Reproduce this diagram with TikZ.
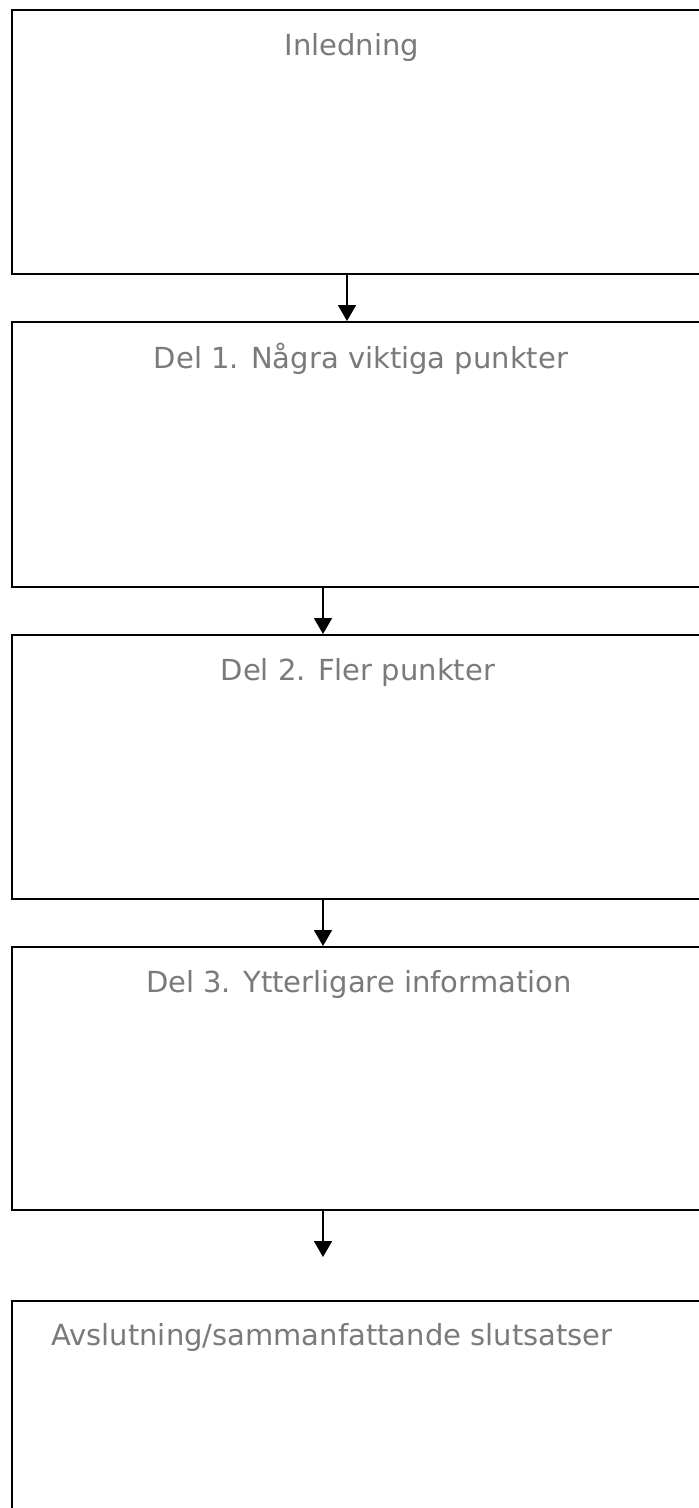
\documentclass[tikz,border=0pt]{standalone}
\usepackage{fontspec}
\setmainfont{DejaVu Sans}
\usetikzlibrary{arrows.meta}
\definecolor{txtgray}{HTML}{7A7A7A}
\tikzset{
  box/.style={draw=black, line width=1.8pt, rectangle, anchor=north west, inner sep=0pt, minimum width=720pt},
  boxtext/.style={anchor=center, text=txtgray, font=\fontsize{29}{34}\selectfont, inner sep=0pt},
  conn/.style={draw=black, line width=1.7pt, -{Triangle[width=18pt,length=16pt]}}
}
\begin{document}
\begin{tikzpicture}[x=1pt,y=1pt]
\useasboundingbox (0,0) rectangle (699,-1508);
\clip (0,0) rectangle (699,-1508);
\fill[white] (0,0) rectangle (699,-1508);
\node[box, minimum height=264pt, label={[boxtext, xshift=-20pt, yshift=-38pt]north:Inledning}] (b1) at (11,-9) {};
\node[box, minimum height=265pt, label={[boxtext, xshift=-11pt, yshift=-38pt]north:Del 1. Några viktiga punkter}] (b2) at (11,-321) {};
\node[box, minimum height=264pt, label={[boxtext, xshift=-14pt, yshift=-38pt]north:Del 2. Fler punkter}] (b3) at (11,-634) {};
\node[box, minimum height=263pt, label={[boxtext, xshift=-13pt, yshift=-38pt]north:Del 3. Ytterligare information}] (b4) at (11,-946) {};
\node[box, minimum height=260pt, label={[boxtext, xshift=-40pt, yshift=-37pt]north:Avslutning/sammanfattande slutsatser}] (b5) at (11,-1300) {};
\coordinate (e4) at (323,-1257);
\draw[conn] (b1.south west) ++(336,0) coordinate (s1) -- (s1 |- b2.north);
\draw[conn] (b2.south west) ++(312,0) coordinate (s2) -- (s2 |- b3.north);
\draw[conn] (b3.south west) ++(312,0) coordinate (s3) -- (s3 |- b4.north);
\draw[conn] (b4.south west) ++(312,0) coordinate (s4) -- (e4);
\end{tikzpicture}
\end{document}
